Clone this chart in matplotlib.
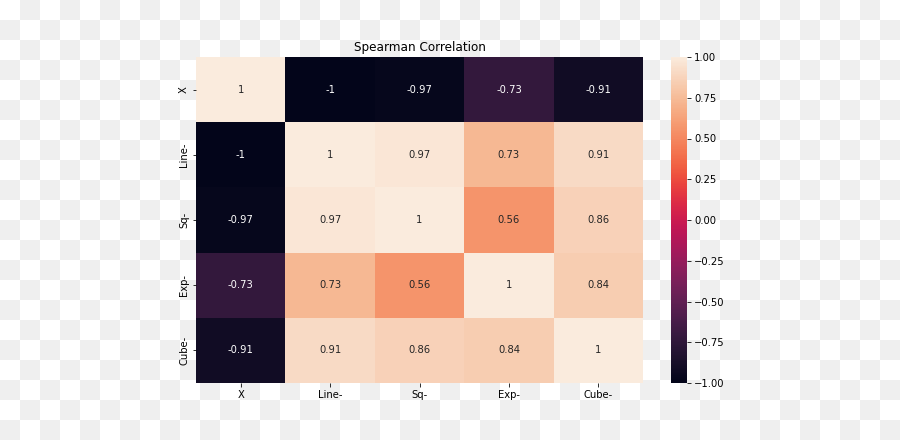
import numpy as np
import matplotlib
matplotlib.use("Agg")
import matplotlib.pyplot as plt
import seaborn as sns

labels = ["X", "Line-", "Sq-", "Exp-", "Cube-"]
row_x = [1.0, -1.0, -0.97, -0.73, -0.91]
row_line = [-1.0, 1.0, 0.97, 0.73, 0.91]
row_sq = [-0.97, 0.97, 1.0, 0.56, 0.86]
row_exp = [-0.73, 0.73, 0.56, 1.0, 0.84]
row_cube = [-0.91, 0.91, 0.86, 0.84, 1.0]
corr = np.array([row_x, row_line, row_sq, row_exp, row_cube])

W, H = 900, 440
fig = plt.figure(figsize=(W / 72, H / 72), dpi=72)
fig.patch.set_alpha(0)

# transparency checkerboard backdrop
yy, xx = np.mgrid[0:H, 0:W]
checker = ((xx // 20 + yy // 20) % 2).astype(float)
bg = np.where(checker[..., None] == 1, 239 / 255, 1.0) * np.ones((H, W, 3))
fig.figimage(bg, xo=0, yo=0, origin="upper", zorder=-10)

ax = fig.add_axes([196 / W, 1 - 383 / H, (643 - 196) / W, (383 - 57) / H])
cax = fig.add_axes([671 / W, 1 - 383 / H, 16 / W, (383 - 57) / H])
cax.patch.set_alpha(0)

sns.heatmap(corr, annot=True, cmap="rocket", vmin=-1, vmax=1,
            xticklabels=labels, yticklabels=labels, ax=ax, cbar_ax=cax,
            annot_kws={"fontsize": 10})
ax.set_title("Spearman Correlation", fontsize=12)
ax.tick_params(labelsize=10)
ax.set_yticklabels(labels, rotation=90, va="center")
cax.tick_params(labelsize=10)
cax.set_yticks([-1, -0.75, -0.5, -0.25, 0, 0.25, 0.5, 0.75, 1])
cax.set_yticklabels(["\u22121.00", "\u22120.75", "\u22120.50", "\u22120.25", "0.00",
                     "0.25", "0.50", "0.75", "1.00"])
for s in cax.spines.values():
    s.set_visible(False)

fig.savefig("out.png", dpi=72)
